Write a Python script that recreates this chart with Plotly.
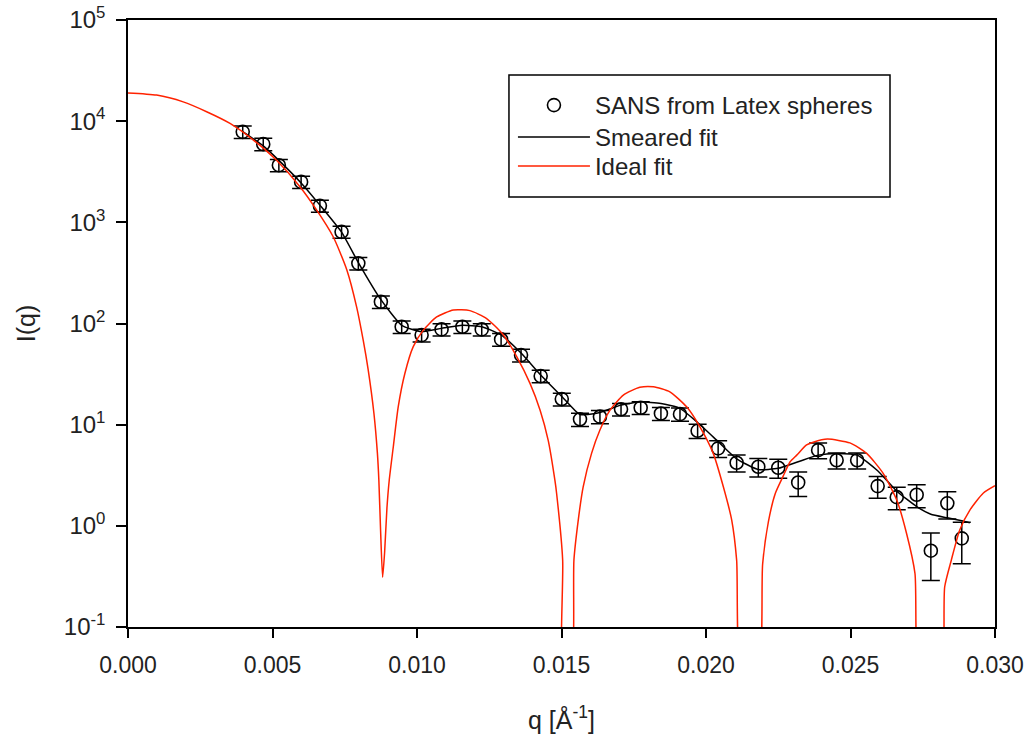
import plotly.graph_objects as go

# ---- data ----
q_data = [0.00397, 0.00468, 0.00522, 0.00599, 0.00664, 0.00739, 0.00797, 0.00875, 0.00947, 0.01016,
          0.01085, 0.01157, 0.01224, 0.01291, 0.01360, 0.01428, 0.01501, 0.01564, 0.01633, 0.01706,
          0.01774, 0.01844, 0.01910, 0.01971, 0.02042, 0.02106, 0.02181, 0.02250, 0.02319, 0.02388,
          0.02452, 0.02523, 0.02594, 0.02660, 0.02729, 0.02778, 0.02835, 0.02885]
I_data = [7840, 5930, 3670, 2510, 1456, 805, 393, 164, 92.8, 76.8,
          87.4, 92.8, 87.4, 69.6, 48.7, 30.2, 17.9, 11.3, 12.0, 14.2,
          14.7, 12.9, 12.7, 8.7, 5.83, 4.2, 3.84, 3.75, 2.68, 5.6,
          4.45, 4.45, 2.47, 1.92, 2.03, 0.568, 1.67, 0.752]
I_err = [1100, 830, 510, 350, 200, 110, 55, 23, 13, 11,
         12, 13, 12, 10, 7, 4.3, 2.6, 1.7, 1.8, 2.0,
         2.1, 1.9, 1.9, 1.4, 1.1, 0.8, 0.8, 0.8, 0.73, 1.0,
         0.8, 0.8, 0.6, 0.48, 0.52, 0.28, 0.5, 0.33]

q_smeared = [0.00397, 0.00468, 0.00522, 0.00599, 0.00664, 0.00739, 0.00797, 0.00875, 0.00947, 0.01016,
             0.01085, 0.01157, 0.01224, 0.01291, 0.01360, 0.01428, 0.01501, 0.01564, 0.01633, 0.01706,
             0.01774, 0.01844, 0.01910, 0.01971, 0.02042, 0.02106, 0.02181, 0.02250, 0.02319, 0.02388,
             0.02452, 0.02523, 0.02594, 0.02660, 0.02729, 0.02778, 0.02835, 0.02885, 0.02913]
I_smeared = [7900, 5700, 4100, 2450, 1480, 800, 400, 172, 96, 83,
             89.5, 96, 93, 77, 51, 31, 19, 12.6, 13.2, 15.6,
             16.8, 16.2, 14.5, 10.5, 6.8, 4.6, 3.6, 3.7, 4.3, 5.0,
             5.2, 5.0, 3.5, 2.2, 1.55, 1.3, 1.2, 1.12, 1.07]

q_ideal = [0.0, 0.00099, 0.00191, 0.00272, 0.00353, 0.00434, 0.00514, 0.00595, 0.00653, 0.00710,
           0.00757, 0.00791, 0.00814, 0.00831, 0.00851, 0.00863, 0.00868, 0.00874, 0.00881, 0.00888,
           0.00896, 0.00904, 0.00918, 0.00935, 0.00958, 0.00987, 0.01022, 0.01068, 0.01126, 0.01183,
           0.01241, 0.01299, 0.01345, 0.01391, 0.01426, 0.01454, 0.01477, 0.01483, 0.01504, 0.01506,
           0.01532, 0.01543, 0.01558, 0.01575, 0.01604, 0.01633, 0.01668, 0.01714, 0.01771, 0.01818,
           0.01875, 0.01933, 0.01979, 0.02025, 0.02060, 0.02089, 0.02106, 0.02125, 0.02178, 0.02196,
           0.02216, 0.02240, 0.02267, 0.02291, 0.02314, 0.02348, 0.02371, 0.02420, 0.02498, 0.02556,
           0.02613, 0.02660, 0.02694, 0.02723, 0.02742, 0.02810, 0.02826, 0.02849, 0.02878, 0.02913,
           0.02959, 0.03000]
I_ideal = [19000, 18100, 15500, 12400, 9500, 6500, 4100, 2250, 1320, 720,
           340, 146, 68, 35, 12.9, 5.2, 2.84, 0.9, 0.31, 0.55,
           1.5, 2.84, 6.05, 15.0, 32, 59, 86, 116, 136, 134,
           112, 77, 47, 25.6, 13.9, 7.0, 2.84, 2.1, 0.46, 0.03,
           0.03, 0.46, 1.14, 2.43, 5.2, 8.85, 13.9, 19.6, 23.4, 23.7,
           21.1, 15.0, 9.5, 5.2, 2.43, 1.14, 0.46, 0.03, 0.03, 0.42,
           1.1, 2.1, 3.1, 4.3, 5.0, 6.3, 6.7, 7.2, 6.6, 5.2,
           3.3, 1.8, 0.84, 0.34, 0.03, 0.03, 0.25, 0.46, 0.91, 1.43,
           2.1, 2.49]

x_ticks = [0.0, 0.005, 0.010, 0.015, 0.020, 0.025, 0.030]
y_ticks = [0.1, 1, 10, 100, 1000, 10000, 100000]
y_ticktext = ["10<sup>-1</sup>", "10<sup>0</sup>", "10<sup>1</sup>", "10<sup>2</sup>",
              "10<sup>3</sup>", "10<sup>4</sup>", "10<sup>5</sup>"]

FONT = "Liberation Sans, Arial, sans-serif"
TXT = "#222222"

fig = go.Figure()
fig.add_trace(go.Scatter(
    x=q_data, y=I_data, mode="markers", name="SANS from Latex spheres", legend="legend",
    marker=dict(symbol="circle-open", size=13, color="black", line=dict(width=1.6, color="black")),
    error_y=dict(type="data", array=I_err, visible=True, color="black", thickness=1.5, width=9),
))
fig.add_trace(go.Scatter(
    x=q_smeared, y=I_smeared, mode="lines", name="Smeared fit", legend="legend2",
    line=dict(color="black", width=1.5, shape="spline", smoothing=0.5),
))
fig.add_trace(go.Scatter(
    x=q_ideal, y=I_ideal, mode="lines", name="Ideal fit", legend="legend3",
    line=dict(color="#ff2200", width=1.5, shape="spline", smoothing=0.6),
))

leg_common = dict(xanchor="left", yanchor="top", bgcolor="rgba(0,0,0,0)", borderwidth=0,
                  font=dict(family=FONT, size=24, color=TXT), itemwidth=72)
LEG_X = 0.444

fig.update_layout(
    width=1030, height=735,
    margin=dict(l=128, r=35, t=20, b=108, autoexpand=False),
    paper_bgcolor="white", plot_bgcolor="white",
    font=dict(family=FONT, color=TXT),
    showlegend=True,
    legend=dict(x=LEG_X, y=0.8962, **leg_common),
    legend2=dict(x=LEG_X, y=0.8435, **leg_common),
    legend3=dict(x=LEG_X, y=0.7957, **leg_common),
    shapes=[dict(type="rect", xref="paper", yref="paper",
                 x0=0.4394, x1=0.8789, y0=0.7084, y1=0.9094,
                 line=dict(color="black", width=1.5), fillcolor="rgba(0,0,0,0)")],
)
fig.update_xaxes(
    range=[0, 0.03], tickvals=x_ticks, tickformat=".3f", automargin=False,
    showgrid=False, zeroline=False,
    showline=True, linecolor="black", linewidth=1.5, mirror=True,
    ticks="outside", ticklen=9, tickwidth=1.5, tickcolor="black",
    ticklabelstandoff=8, ticklabeloverflow="allow",
    tickfont=dict(family=FONT, size=23, color=TXT),
    title=dict(text="q [Å<sup>-1</sup>]", font=dict(family=FONT, size=25, color=TXT), standoff=34),
)
fig.update_yaxes(
    type="log", range=[-1, 5], tickvals=y_ticks, ticktext=y_ticktext, automargin=False,
    showgrid=False, zeroline=False,
    showline=True, linecolor="black", linewidth=1.5, mirror=True,
    ticks="outside", ticklen=10, tickwidth=1.5, tickcolor="black",
    ticklabelstandoff=6, ticklabeloverflow="allow",
    tickfont=dict(family=FONT, size=24, color=TXT),
    title=dict(text="I(q)", font=dict(family=FONT, size=25, color=TXT), standoff=21),
)

# remove the default 8px page margin so the figure sits at the window's corner
fig.write_html("out.html", config={"displayModeBar": False},
               post_script="document.body.style.margin='0';")
